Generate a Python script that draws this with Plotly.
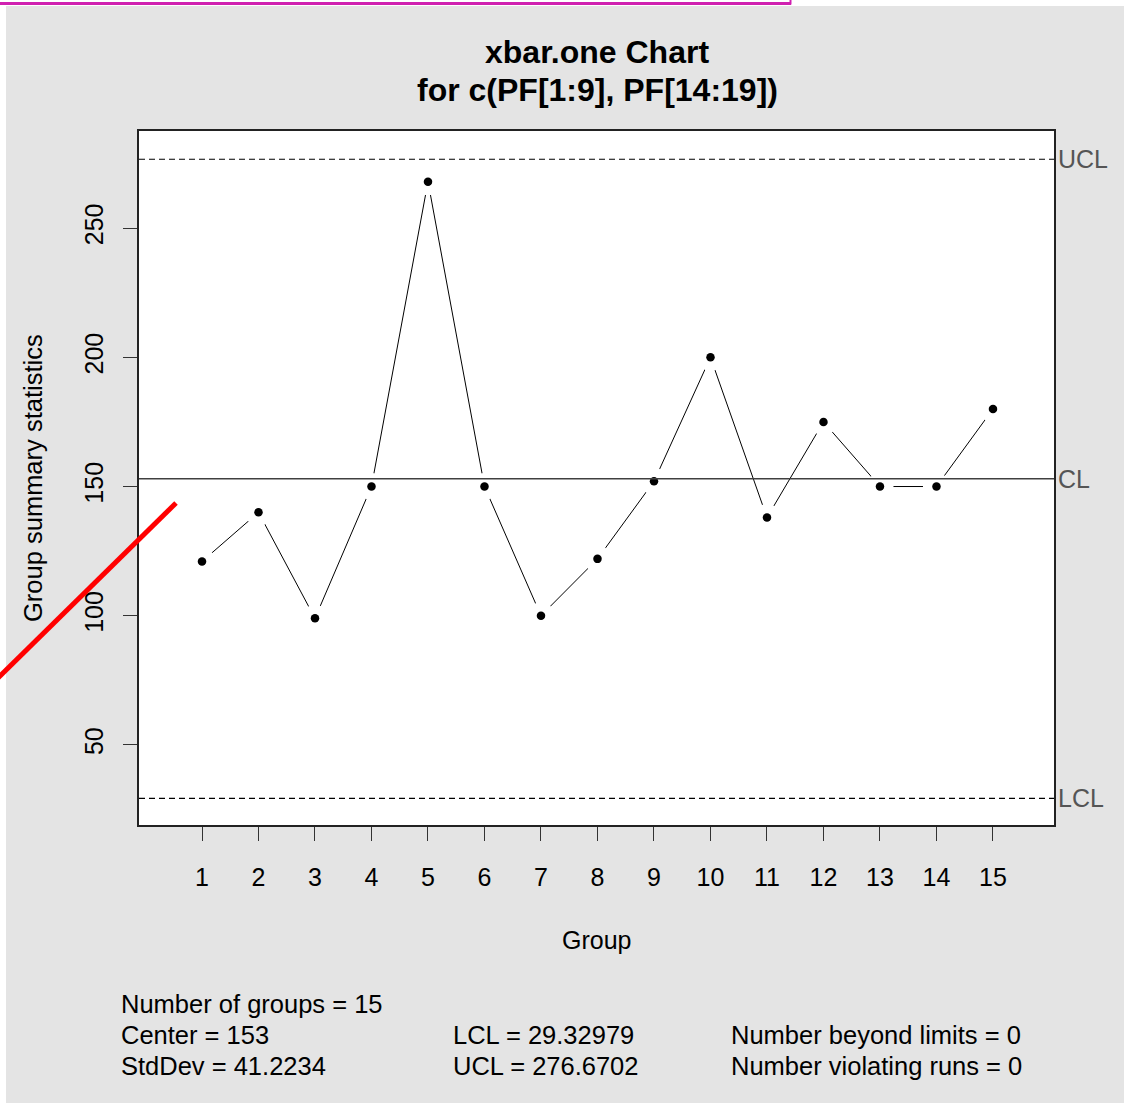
import plotly.graph_objects as go

# ---- data ----
groups = list(range(1, 16))
values = [121, 140, 99, 150, 268, 150, 100, 122, 152, 200, 138, 175, 150, 150, 180]
center = 153
lcl = 29.32979
ucl = 276.6702
stddev = 41.2234
y_ticks = [50, 100, 150, 200, 250]
limit_labels = ["UCL", "CL", "LCL"]
limit_values = [ucl, center, lcl]

W, H = 1124, 1105
L, R, T, B = 139, 1054, 131, 825
FONT = "Liberation Sans, Arial, sans-serif"
BG = "#e4e4e4"


def px(xp):
    return (xp - L) / (R - L)


def py(yp):
    return (B - yp) / (B - T)


fig = go.Figure()
fig.add_trace(go.Scatter(x=groups, y=values, mode="lines",
                         line=dict(color="black", width=1), hoverinfo="skip"))
fig.add_trace(go.Scatter(x=groups, y=values, mode="markers",
                         marker=dict(color="white", size=27), hoverinfo="skip"))
fig.add_trace(go.Scatter(x=groups, y=values, mode="markers",
                         marker=dict(color="black", size=8.5)))

white_strip = dict(fillcolor="white", line=dict(width=0), layer="below",
                   type="rect", xref="paper", yref="paper")
shapes = [
    # white page strips outside the gray device area
    dict(white_strip, x0=px(-5), x1=px(6), y0=py(H + 5), y1=py(-5)),
    dict(white_strip, x0=px(-5), x1=px(W + 5), y0=py(6), y1=py(-5)),
    dict(white_strip, x0=px(-5), x1=px(W + 5), y0=py(H + 5), y1=py(1103)),
    # center and limit lines
    dict(type="line", xref="paper", yref="y", x0=0, x1=1, y0=center, y1=center,
         line=dict(color="#404040", width=1.5), layer="above"),
    dict(type="line", xref="paper", yref="y", x0=0, x1=1, y0=ucl, y1=ucl,
         line=dict(color="black", width=1.2, dash="6px,4px"), layer="above"),
    dict(type="line", xref="paper", yref="y", x0=0, x1=1, y0=lcl, y1=lcl,
         line=dict(color="black", width=1.2, dash="6px,4px"), layer="above"),
    # red annotation stroke
    dict(type="line", xref="paper", yref="paper", x0=px(176), y0=py(503),
         x1=px(-2), y1=py(678), line=dict(color="#ff0000", width=5), layer="above"),
    # magenta selection border at the top
    dict(type="line", xref="paper", yref="paper", x0=px(-2), y0=py(3.5),
         x1=px(791), y1=py(3.5), line=dict(color="#d020b0", width=3), layer="above"),
    dict(type="line", xref="paper", yref="paper", x0=px(790.5), y0=py(-2),
         x1=px(790.5), y1=py(4.5), line=dict(color="#d020b0", width=2), layer="above"),
]

ann = []
for lab, v in zip(limit_labels, limit_values):
    ann.append(dict(text=lab, xref="paper", yref="y", x=px(1056), y=v,
                    xanchor="left", yanchor="middle", showarrow=False,
                    font=dict(size=25, color="#555555", family=FONT)))

ann.append(dict(text="<b>xbar.one Chart</b>", xref="paper", yref="paper",
                x=px(597), y=py(52), showarrow=False, xanchor="center", yanchor="middle",
                font=dict(size=32, color="black", family=FONT)))
ann.append(dict(text="<b>for c(PF[1:9], PF[14:19])</b>", xref="paper", yref="paper",
                x=px(597), y=py(90), showarrow=False, xanchor="center", yanchor="middle",
                font=dict(size=32, color="black", family=FONT)))
ann.append(dict(text="Group", xref="paper", yref="paper", x=px(596), y=py(940),
                showarrow=False, xanchor="center", yanchor="middle",
                font=dict(size=25, color="black", family=FONT)))
ann.append(dict(text="Group summary statistics", xref="paper", yref="paper",
                x=px(33), y=py(478), showarrow=False, xanchor="center", yanchor="middle",
                textangle=-90, font=dict(size=25.5, color="black", family=FONT)))

footer = [
    ("Number of groups = %d" % len(groups), 119, 1004),
    ("Center = %g" % center, 119, 1035),
    ("StdDev = %s" % stddev, 119, 1066),
    ("LCL = %s" % lcl, 451, 1035),
    ("UCL = %s" % ucl, 451, 1066),
    ("Number beyond limits = 0", 729, 1035),
    ("Number violating runs = 0", 729, 1066),
]
for t, xx, yy in footer:
    ann.append(dict(text=t, xref="paper", yref="paper", x=px(xx), y=py(yy),
                    showarrow=False, xanchor="left", yanchor="middle",
                    font=dict(size=25.5, color="black", family=FONT)))

fig.update_layout(
    width=W, height=H,
    margin=dict(l=L, r=W - R, t=T, b=H - B, pad=0),
    paper_bgcolor=BG, plot_bgcolor="white",
    showlegend=False,
    shapes=shapes, annotations=ann,
    font=dict(family=FONT, color="black"),
    xaxis=dict(range=[-0.115, 16.08], tickvals=groups, ticks="outside", ticklen=14,
               tickcolor="#333333", showgrid=False, zeroline=False, showline=True,
               mirror=True, linecolor="#222222", linewidth=1.5,
               tickfont=dict(size=25, color="black", family=FONT), ticklabelstandoff=15),
    yaxis=dict(range=[19.0, 287.6], tickvals=y_ticks, ticks="outside", ticklen=14,
               tickcolor="#333333", showgrid=False, zeroline=False, showline=True,
               mirror=True, linecolor="#222222", linewidth=1.5, tickangle=-90,
               tickfont=dict(size=25, color="black", family=FONT), ticklabelstandoff=10),
)

fig.write_html("out.html")
